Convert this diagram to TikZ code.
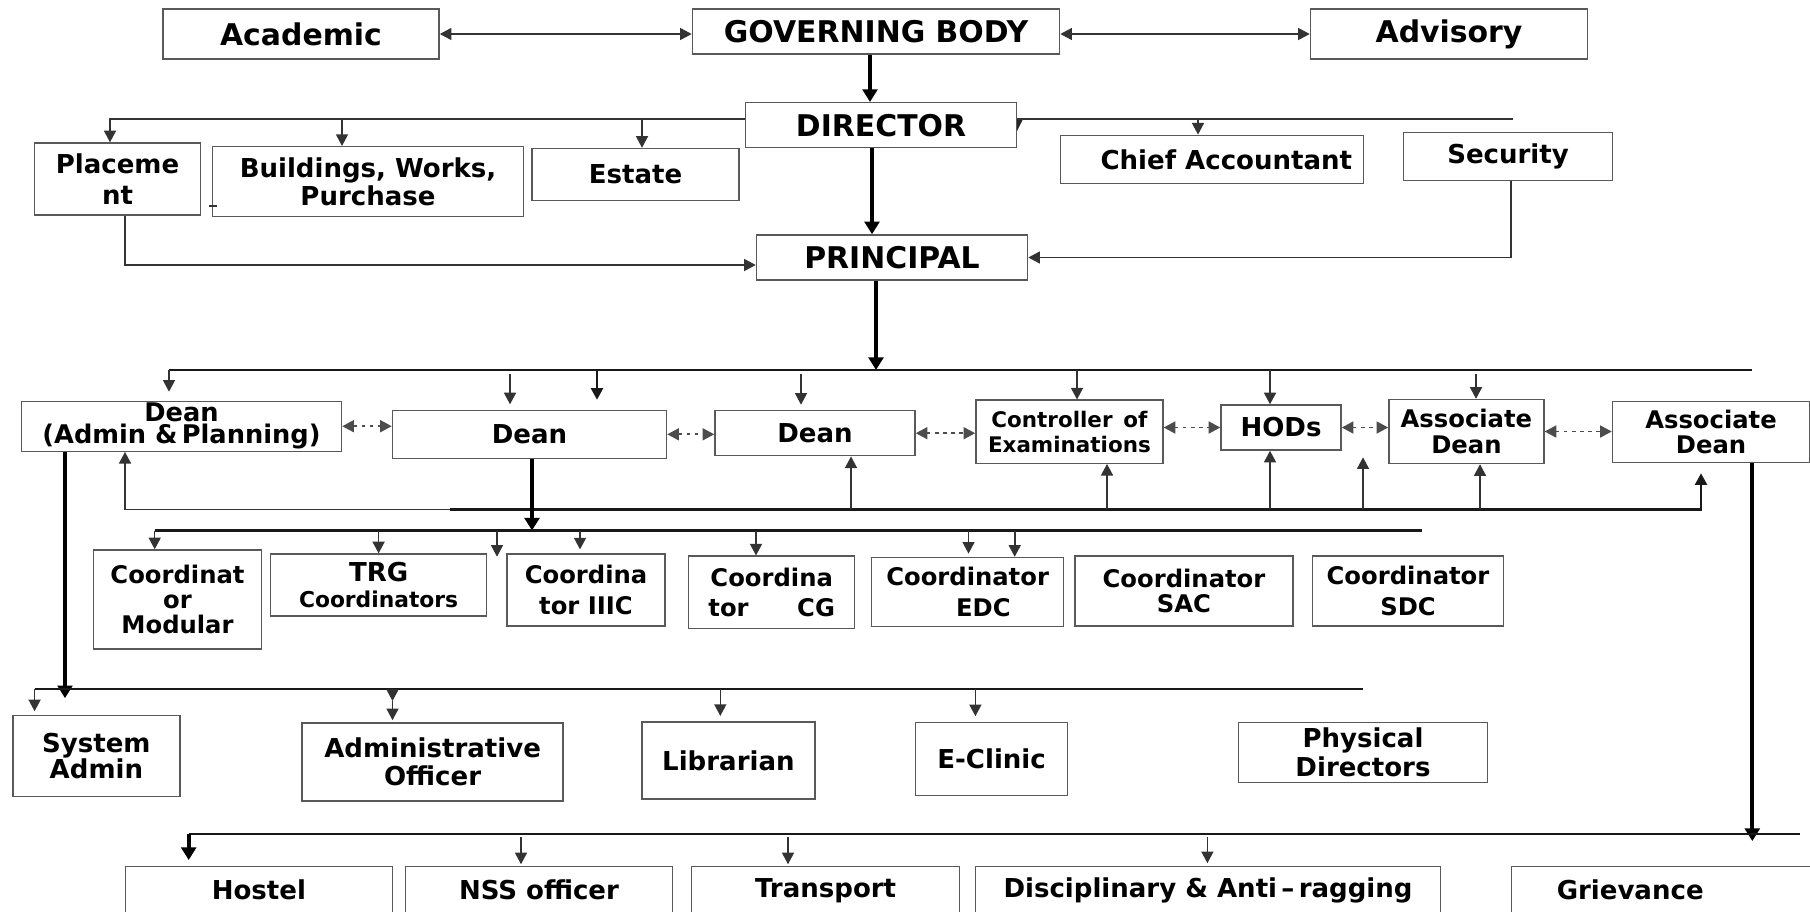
\documentclass[tikz,border=0pt]{standalone}
\usepackage{fontspec}
\setmainfont{DejaVu Sans}
\usetikzlibrary{arrows.meta}

\begin{document}
\begin{tikzpicture}[x=0.01cm, y=-0.01cm,
  >={Triangle[length=3.3pt,width=3.4pt]},
  box/.style={draw=black!65, line width=0.4pt, inner sep=0pt, align=center, font=\bfseries\fontsize{7.4}{8}\selectfont},
  big/.style={font=\bfseries\fontsize{8.5}{10}\selectfont},
  mid/.style={font=\bfseries\fontsize{6.9}{#1}\selectfont},
  mid/.default=8.6,
  sm/.style={font=\bfseries\fontsize{6.1}{7}\selectfont},
  ln/.style={black!80, line width=0.45pt},
  bus/.style={black!90, line width=0.7pt},
  thk/.style={black, line width=1.15pt, >={Triangle[length=3.6pt,width=4.2pt]}},
  dots/.style={<->, black!70, line width=0.5pt, dash pattern=on 1pt off 1.3pt}]
\path[use as bounding box, fill=white] (0,0) rectangle (1810,911);
\clip (0,0) rectangle (1810,911);

\node[box, big, minimum width=2.76cm, minimum height=0.50cm] (AC) at (301,34) {Academic};
\node[box, big, minimum width=3.67cm, minimum height=0.45cm] (GB) at (876,31.5) {GOVERNING BODY};
\node[box, big, minimum width=2.77cm, minimum height=0.50cm] (AV) at (1449,34) {Advisory};
\node[box, big, minimum width=2.71cm, minimum height=0.45cm] (DIR) at (881,125.2) {DIRECTOR};
\node[box, font=\bfseries\fontsize{7.4}{8.6}\selectfont, minimum width=1.66cm, minimum height=0.72cm] (PL) at (117.5,179) {Placeme\\nt};
\node[box, minimum width=3.11cm, minimum height=0.70cm] (BW) at (368,181.7) {Buildings, Works,\\Purchase};
\node[box, minimum width=2.07cm, minimum height=0.52cm] (ES) at (635.5,174.5) {Estate};
\node[box, minimum width=3.03cm, minimum height=0.48cm] (CA) at (1212,159.3) {\hspace*{1.1em}Chief Accountant};
\node[box, minimum width=2.09cm, minimum height=0.48cm] (SE) at (1508,156.3) {Security};
\node[box, big, minimum width=2.71cm, minimum height=0.45cm] (PR) at (892,257.5) {PRINCIPAL};

\node[box, font=\bfseries\fontsize{7.3}{6.3}\selectfont, minimum width=3.20cm, minimum height=0.50cm] (DA) at (181.5,426.2) {Dean\\(Admin \&\,Planning)};
\node[box, minimum width=2.74cm, minimum height=0.48cm] (D2) at (529.5,434.3) {Dean};
\node[box, minimum width=2.00cm, minimum height=0.45cm] (D3) at (815,433.2) {Dean};
\node[box, sm, minimum width=1.87cm, minimum height=0.63cm] (CE) at (1069.4,431.7) {Controller\enspace of\\Examinations};
\node[box, minimum width=1.20cm, minimum height=0.45cm] (HO) at (1281,427.5) {HODs};
\node[box, mid=7.2, minimum width=1.55cm, minimum height=0.64cm] (A1) at (1466.4,431.5) {Associate\\Dean};
\node[box, mid=7.2, minimum width=1.97cm, minimum height=0.61cm] (A2) at (1711,432.2) {Associate\\Dean};

\node[box, mid=7.2, minimum width=1.68cm, minimum height=0.99cm] (CM) at (177.5,599.5) {Coordinat\\or\\Modular};
\node[box, minimum width=2.16cm, minimum height=0.62cm] (TG) at (378.6,585) {TRG\\[-0.6pt]{\fontsize{6.2}{7}\selectfont Coordinators}};
\node[box, mid, minimum width=1.58cm, minimum height=0.72cm] (C3) at (586,590) {Coordina\\tor IIIC};
\node[box, mid, minimum width=1.66cm, minimum height=0.72cm] (CG) at (771.7,592.2) {Coordina\\tor\qquad CG};
\node[box, mid, minimum width=1.92cm, minimum height=0.69cm] (ED) at (967.6,592) {Coordinator\\\hspace*{1.3em}EDC};
\node[box, mid=7.2, minimum width=2.18cm, minimum height=0.70cm] (SC) at (1184,591) {Coordinator\\SAC};
\node[box, mid, minimum width=1.91cm, minimum height=0.70cm] (SD) at (1408,591) {Coordinator\\SDC};

\node[box, font=\bfseries\fontsize{7.4}{7.5}\selectfont, minimum width=1.67cm, minimum height=0.81cm] (SA) at (96.4,756) {System\\Admin};
\node[box, minimum width=2.61cm, minimum height=0.78cm] (AO) at (432.6,762) {Administrative\\Officer};
\node[box, minimum width=1.73cm, minimum height=0.77cm] (LI) at (728.4,760.4) {Librarian};
\node[box, minimum width=1.52cm, minimum height=0.73cm] (EC) at (991.6,758.7) {E-Clinic};
\node[box, minimum width=2.49cm, minimum height=0.60cm] (PD) at (1363,752.3) {Physical\\Directors};

\node[box, anchor=north, minimum width=2.67cm, minimum height=0.47cm] (HS) at (258.9,866) {Hostel};
\node[box, anchor=north, minimum width=2.67cm, minimum height=0.47cm] (NS) at (539,866) {NSS officer};
\node[box, anchor=north, minimum width=2.68cm, minimum height=0.47cm] (TP) at (825.6,866) {Transport};
\node[box, anchor=north, minimum width=4.65cm, minimum height=0.47cm] (DI) at (1208,866) {Disciplinary \& Anti\,–\,ragging};
\node[box, anchor=north west, align=left, text width=2.9cm, inner xsep=0.45cm, minimum height=0.47cm] (GR) at (1511,866) {Grievance};

\coordinate (dl) at (110,119);
\coordinate (dr) at (1513,119);
\coordinate (pb) at (169,370);
\coordinate (pe) at (1752,370);
\coordinate (rb) at (450,509.3);
\coordinate (re) at (1701,509.3);
\coordinate (fr) at (1363,457.3);
\coordinate (cb) at (154.7,530.5);
\coordinate (ce) at (1421.6,530.5);
\coordinate (fc) at (497,556.7);
\coordinate (sb) at (34.6,689);
\coordinate (se) at (1362.7,689);
\coordinate (am) at (392.5,701);
\coordinate (hb) at (188.7,834);
\coordinate (he) at (1800,834);

\draw[ln, <->] (AC) -- (AC -| GB.west);
\draw[ln, <->] (AV) -- (AV -| GB.east);
\draw[thk, ->] (GB.south -| 870,0) -- (DIR.north -| 870,0);

\draw[ln, ->] (DIR.west |- dl) -| (PL.north -| dl);
\draw[ln, ->] (dl -| 342,0) -- (BW.north -| 342,0);
\draw[ln, ->] (dl -| 642,0) -- (ES.north -| 642,0);
\draw[ln] (DIR.east |- dr) -- (dr);
\draw[ln, ->] (dr -| 1198,0) -- (CA.north -| 1198,0);
\fill[black!85] (1017,120) -- (1022.5,120) -- (1017,131) -- cycle;
\draw[ln] (209,206) -- (217,206);

\draw[thk, ->] (DIR.south -| 872,0) -- (PR.north -| 872,0);
\draw[ln, ->] (PL.south -| 125,0) |- (PR.west |- 0,265);
\draw[ln, ->] (SE.south -| 1511,0) |- (PR.east);

\draw[thk, ->] (PR.south -| 876,0) -- (pb -| 876,0);
\draw[bus] (pb) -- (pe);
\draw[ln, ->, shorten >=2.5pt] (pb) -- (DA.north -| pb);
\draw[ln, ->, shorten <=1pt, shorten >=1.5pt] (pb -| 510,0) -- (D2.north -| 510,0);
\draw[bus, ->, shorten >=2.8pt] (pb -| 597,0) -- (D2.north -| 597,0);
\draw[ln, ->, shorten <=1pt, shorten >=1.5pt] (pb -| 801,0) -- (D3.north -| 801,0);
\draw[ln, ->] (pb -| 1077,0) -- (CE.north -| 1077,0);
\draw[ln, ->] (pb -| 1270,0) -- (HO.north -| 1270,0);
\draw[ln, ->, shorten <=1pt] (pb -| 1476,0) -- (A1.north -| 1476,0);

\draw[dots] (DA.east) -- (DA.east -| D2.west);
\draw[dots] (D2.east) -- (D2.east -| D3.west);
\draw[dots] (D3.east) -- (D3.east -| CE.west);
\draw[dots] (HO.west -| CE.east) -- (HO.west);
\draw[dots] (HO.east) -- (HO.east -| A1.west);
\draw[dots] (A1.east) -- (A1.east -| A2.west);

\draw[ln, ->] (rb) -| (DA.south -| 125,0);
\draw[bus, ->, shorten >=2.8pt] (rb) -| (A2.south -| re);
\draw[ln, ->] (rb -| 851,0) -- (D3.south -| 851,0);
\draw[ln, ->] (rb -| 1107,0) -- (CE.south -| 1107,0);
\draw[ln, ->] (rb -| 1270,0) -- (HO.south -| 1270,0);
\draw[ln, ->] (rb -| fr) -- (fr);
\draw[ln, ->] (rb -| 1480,0) -- (A1.south -| 1480,0);

\draw[thk, ->] (D2.south -| 532,0) -- (cb -| 532,0);
\draw[bus] (cb) -- (ce);
\draw[ln, ->] (cb) -- (CM.north -| cb);
\draw[ln, ->] (cb -| 378.6,0) -- (TG.north -| 378.6,0);
\draw[ln, ->] (cb -| fc) -- (fc);
\draw[ln, ->, shorten >=1.1pt] (cb -| 580,0) -- (C3.north -| 580,0);
\draw[ln, ->] (cb -| 756,0) -- (CG.north -| 756,0);
\draw[ln, ->, shorten >=0.9pt] (cb -| 968.5,0) -- (ED.north -| 968.5,0);
\draw[ln, ->] (cb -| 1014.7,0) -- (ED.north -| 1014.7,0);

\draw[thk, ->, shorten >=-2.6pt] (DA.south -| 65,0) -- (sb -| 65,0);
\draw[bus] (sb) -- (se);
\draw[ln, ->, shorten >=1pt] (sb) -- (SA.north -| sb);
\draw[ln, ->] (sb -| am) -- (am);
\draw[ln, ->, shorten >=0.6pt] (am) -- (AO.north -| am);
\draw[ln, ->, shorten >=1.5pt] (sb -| 720.3,0) -- (LI.north -| 720.3,0);
\draw[ln, ->, shorten >=1.5pt] (sb -| 975.4,0) -- (EC.north -| 975.4,0);

\draw[thk, ->, shorten >=-2pt] (A2.south -| 1752.3,0) -- (hb -| 1752.3,0);
\draw[bus] (hb) -- (he);
\draw[thk, ->, shorten >=1.7pt] (hb) -- (HS.north -| hb);
\draw[ln, ->, shorten <=0.9pt, shorten >=0.5pt] (hb -| 521,0) -- (NS.north -| 521,0);
\draw[ln, ->, shorten <=0.9pt, shorten >=0.5pt] (hb -| 788,0) -- (TP.north -| 788,0);
\draw[ln, ->, shorten <=0.9pt, shorten >=0.8pt] (hb -| 1207.4,0) -- (DI.north -| 1207.4,0);
\end{tikzpicture}
\end{document}
